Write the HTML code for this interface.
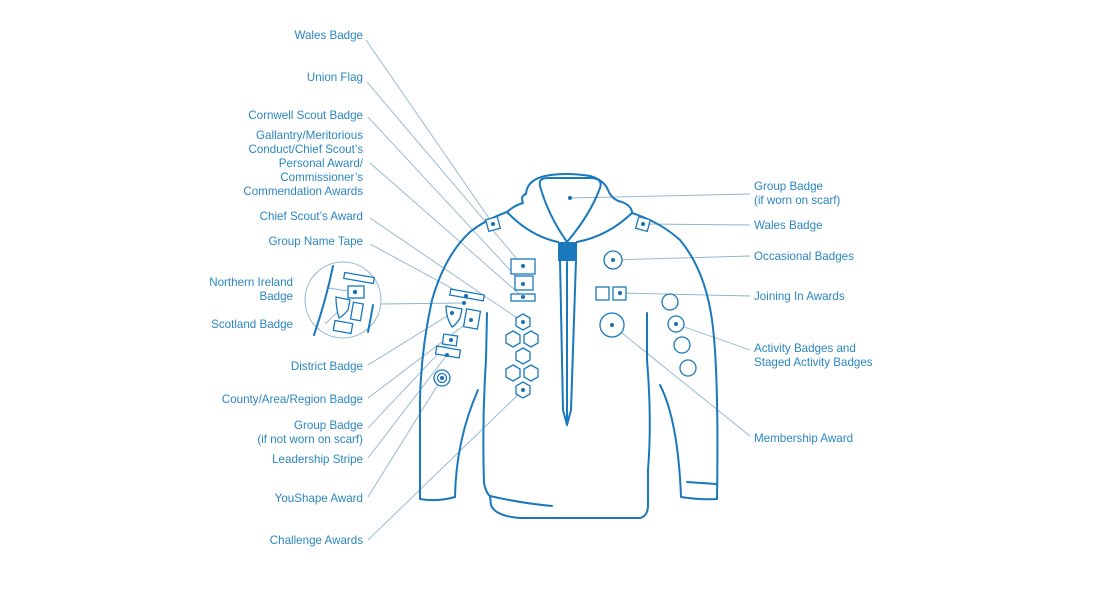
<!DOCTYPE html>
<html><head><meta charset="utf-8"><style>
html,body{margin:0;padding:0;background:#fff;}
svg{display:block}
text{font-family:"Liberation Sans",sans-serif;font-size:11.6px;fill:#2a86c0}
.l{stroke:#8fb4cc;stroke-width:0.9;fill:none}
.s{stroke:#1a78bd;stroke-width:2;fill:none;stroke-linecap:round;stroke-linejoin:round}
.b{stroke:#1a78bd;stroke-width:1.3;fill:#fff}
.d{fill:#1a6fb0}
</style></head><body>
<svg width="1110" height="601" viewBox="0 0 1110 601">
<g class="l">
<line x1="366" y1="40" x2="493" y2="224"/>
<line x1="367" y1="82" x2="523" y2="266"/>
<line x1="368" y1="117" x2="523" y2="284"/>
<line x1="370" y1="163" x2="523" y2="297"/>
<line x1="370" y1="218" x2="523" y2="322"/>
<line x1="370" y1="244" x2="466" y2="296"/>
<line x1="328" y1="288" x2="355" y2="292"/>
<line x1="325" y1="324" x2="346" y2="304"/>
<line x1="381" y1="304" x2="464" y2="303"/>
<line x1="368" y1="365" x2="452" y2="313"/>
<line x1="368" y1="398" x2="471" y2="320"/>
<line x1="368" y1="428" x2="451" y2="340"/>
<line x1="368" y1="458" x2="447" y2="355"/>
<line x1="368" y1="497" x2="442" y2="378"/>
<line x1="368" y1="540" x2="523" y2="390"/>
<line x1="750" y1="194" x2="570" y2="198"/>
<line x1="750" y1="225" x2="643" y2="224"/>
<line x1="750" y1="256" x2="613" y2="260"/>
<line x1="750" y1="296" x2="620" y2="293"/>
<line x1="750" y1="350" x2="676" y2="324"/>
<line x1="750" y1="436" x2="612" y2="325"/>
</g>
<circle cx="343" cy="300" r="38" fill="none" stroke="#8fb4cc" stroke-width="1"/>
<path class="s" d="M333 266 Q326 300 314 335" stroke-width="1.6"/>
<path class="s" d="M373 305 Q370 322 368 332" stroke-width="1.6"/>
<rect class="b" x="344" y="275" width="30" height="6" transform="rotate(10 359 278)"/>
<rect class="b" x="348" y="286" width="16" height="12"/>
<path class="b" d="M336 297 L350 300 L348 310 Q343 316 339 318 Q336 308 336 297Z"/>
<rect class="b" x="352" y="303" width="10" height="17" transform="rotate(10 357 311)"/>
<rect class="b" x="334" y="322" width="18" height="10" transform="rotate(10 343 327)"/>
<circle class="d" cx="355" cy="292" r="2.2"/>
<path class="s" d="M507 212 Q515 205 523 203 Q520 196 526 194 Q527 180 545 176 Q565 172 590 176 Q604 180 608 190 Q612 200 622 202 Q632 206 632 213"/>
<path class="s" d="M540 186 Q538 178 548 178 L592 178 Q603 179 600 188 Q590 215 567 242 Q548 215 540 186Z"/>
<path class="s" d="M507 212 Q530 236 558 242 M577 242 Q608 236 632 213"/>
<path class="s" d="M507 212 Q485 220 470 232 Q445 255 432 300 Q421 350 420 400 L420 499 Q437 502 455 497"/>
<path class="s" d="M455 497 Q456 440 478 390"/>
<path class="s" d="M487 313 L486 360 Q482 420 484 483 Q486 493 490 496 Q520 503 552 506"/>
<path class="s" d="M490 496 L491 505 Q495 516 520 518 L640 518 Q648 516 648 505 L648 470 Q652 420 647 360 L647 313"/>
<path class="s" d="M632 213 Q660 222 680 240 Q705 270 712 320 Q719 370 717 499 Q700 500 681 497 Q678 420 660 385"/>
<path class="s" d="M687 482 L716 484"/>
<path class="s" d="M560 260 L563 410 L567 425 L571 410 L576 260" stroke-width="1.6"/>
<path class="s" d="M567 262 L567 420" stroke-width="1.2"/>
<rect x="558" y="242" width="19" height="19" fill="#1a78bd"/>
<g>
<rect class="b" x="487" y="218" width="12" height="12" transform="rotate(-15 493 224)"/>
<rect class="b" x="637" y="218" width="12" height="12" transform="rotate(15 643 224)"/>
<rect class="b" x="511" y="259" width="24" height="15"/>
<rect class="b" x="515" y="276" width="18" height="14"/>
<rect class="b" x="511" y="294" width="24" height="7"/>
<path class="b" d="M523 314 l7 4 v8 l-7 4 l-7 -4 v-8z"/>
<path class="b" d="M513 331 l7 4 v8 l-7 4 l-7 -4 v-8z"/>
<path class="b" d="M531 331 l7 4 v8 l-7 4 l-7 -4 v-8z"/>
<path class="b" d="M523 348 l7 4 v8 l-7 4 l-7 -4 v-8z"/>
<path class="b" d="M513 365 l7 4 v8 l-7 4 l-7 -4 v-8z"/>
<path class="b" d="M531 365 l7 4 v8 l-7 4 l-7 -4 v-8z"/>
<path class="b" d="M523 382 l7 4 v8 l-7 4 l-7 -4 v-8z"/>
<rect class="b" x="450" y="292" width="34" height="6" transform="rotate(10 467 295)"/>
<path class="b" d="M446 306 L462 309 L460 318 Q456 325 452 327 Q446 318 446 306Z"/>
<rect class="b" x="465" y="310" width="14" height="18" transform="rotate(10 472 319)"/>
<rect class="b" x="443" y="335" width="14" height="10" transform="rotate(8 450 340)"/>
<rect class="b" x="436" y="348" width="24" height="8" transform="rotate(10 448 352)"/>
<circle class="b" cx="442" cy="378" r="8"/>
<circle class="b" cx="442" cy="378" r="4.5"/>
<circle class="b" cx="613" cy="260" r="9"/>
<rect class="b" x="596" y="287" width="13" height="13"/>
<rect class="b" x="613" y="287" width="13" height="13"/>
<circle class="b" cx="612" cy="325" r="12"/>
<circle class="b" cx="670" cy="302" r="8"/>
<circle class="b" cx="676" cy="324" r="8"/>
<circle class="b" cx="682" cy="345" r="8"/>
<circle class="b" cx="688" cy="368" r="8"/>
</g>
<g class="d">
<circle cx="570" cy="198" r="2"/><circle cx="493" cy="224" r="2"/><circle cx="643" cy="224" r="2"/>
<circle cx="523" cy="266" r="2"/><circle cx="523" cy="284" r="2"/><circle cx="523" cy="297" r="2"/>
<circle cx="523" cy="322" r="2"/><circle cx="523" cy="390" r="2"/><circle cx="466" cy="296" r="2"/>
<circle cx="464" cy="303" r="2"/><circle cx="452" cy="313" r="2"/><circle cx="471" cy="320" r="2"/>
<circle cx="451" cy="340" r="2"/><circle cx="447" cy="355" r="2"/><circle cx="442" cy="378" r="2"/>
<circle cx="613" cy="260" r="2"/><circle cx="620" cy="293" r="2"/><circle cx="676" cy="324" r="2"/>
<circle cx="612" cy="325" r="2"/>
</g>
<g text-anchor="end">
<text x="363" y="39">Wales Badge</text>
<text x="363" y="81">Union Flag</text>
<text x="363" y="119">Cornwell Scout Badge</text>
<text x="363" y="139">Gallantry/Meritorious</text>
<text x="363" y="153">Conduct/Chief Scout’s</text>
<text x="363" y="167">Personal Award/</text>
<text x="363" y="181">Commissioner’s</text>
<text x="363" y="195">Commendation Awards</text>
<text x="363" y="220">Chief Scout’s Award</text>
<text x="363" y="245">Group Name Tape</text>
<text x="293" y="286">Northern Ireland</text>
<text x="293" y="300">Badge</text>
<text x="293" y="328">Scotland Badge</text>
<text x="363" y="370">District Badge</text>
<text x="363" y="403">County/Area/Region Badge</text>
<text x="363" y="429">Group Badge</text>
<text x="363" y="443">(if not worn on scarf)</text>
<text x="363" y="463">Leadership Stripe</text>
<text x="363" y="502">YouShape Award</text>
<text x="363" y="544">Challenge Awards</text>
</g>
<g>
<text x="754" y="190">Group Badge</text>
<text x="754" y="204">(if worn on scarf)</text>
<text x="754" y="229">Wales Badge</text>
<text x="754" y="260">Occasional Badges</text>
<text x="754" y="300">Joining In Awards</text>
<text x="754" y="352">Activity Badges and</text>
<text x="754" y="366">Staged Activity Badges</text>
<text x="754" y="442">Membership Award</text>
</g>
</svg>
</body></html>
